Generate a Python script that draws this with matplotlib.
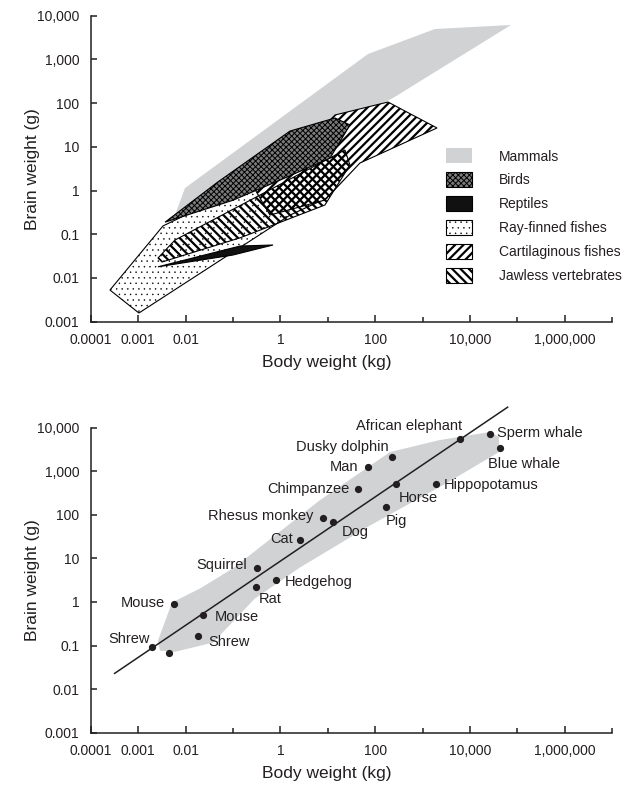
import matplotlib
matplotlib.use('Agg')
import matplotlib.pyplot as plt
from matplotlib.patches import Patch
from matplotlib.ticker import NullFormatter

plt.rcParams['font.family'] = ['Liberation Sans', 'DejaVu Sans']
plt.rcParams['hatch.linewidth'] = 1.5

ink = '#231f20'
gray = '#d1d2d4'

# --- top panel: outlines of each class, body weight (kg) / brain weight (g)
mammals_x = [0.006, 0.00975, 70.5, 1820, 73100, 237, 0.229, 0.0124]
mammals_y = [0.275, 1.14, 1330, 4960, 6130, 131, 2.95, 0.19]

birds_x = [0.0037, 0.048, 1.6, 14.2, 29.4, 11.1, 0.98, 0.1]
birds_y = [0.189, 1.57, 23, 45.7, 31.6, 5.5, 1.73, 0.6]

reptiles_x = [0.00262, 0.141, 0.7, 0.1]
reptiles_y = [0.018, 0.0538, 0.0568, 0.0335]

rayfin_x = [0.000255, 0.00104, 1.6, 9.6, 14.2, 2.6, 0.00335]
rayfin_y = [0.0053, 0.00158, 0.275, 0.675, 2.95, 5.0, 0.155]

cartil_x = [0.296, 2.6, 14.2, 186, 2010, 47.8, 8.7, 0.604]
cartil_y = [1.03, 8.45, 53.5, 106, 27, 4.27, 0.607, 0.275]

jawless_x = [0.00262, 0.006, 0.372, 23, 29.3, 8.7, 0.141, 0.0032]
jawless_y = [0.0286, 0.0738, 0.79, 8.45, 3.85, 0.467, 0.0828, 0.0232]

# --- bottom panel
species = ['African elephant', 'Sperm whale', 'Blue whale', 'Dusky dolphin', 'Man',
           'Chimpanzee', 'Horse', 'Hippopotamus', 'Pig', 'Dog', 'Rhesus monkey', 'Cat',
           'Squirrel', 'Hedgehog', 'Rat', 'Mouse', 'Mouse', 'Shrew', 'Shrew', '']
body_kg = [6140, 26300, 43300, 223, 69, 44, 274, 1900, 169, 13, 7.8, 2.6,
           0.32, 0.81, 0.30, 0.0058, 0.0237, 0.00196, 0.018, 0.00448]
brain_g = [5400, 7160, 3360, 2150, 1225, 382, 500, 498, 152, 68, 86.5, 27,
           6.1, 3.2, 2.25, 0.905, 0.49, 0.0906, 0.169, 0.067]

band_x = [0.00262, 0.00518, 0.0202, 0.1, 6.8, 205, 2320, 26300, 40700, 40700,
          2690, 78, 2.6, 0.29, 0.038, 0.006, 0.0029]
band_y = [0.129, 0.97, 2.04, 5.9, 216, 2760, 5210, 7960, 6110, 2750,
          480, 57, 6.2, 1.2, 0.117, 0.072, 0.076]

fit_x = [3.2e-4, 6.2e4]
fit_y = [0.023, 29500]

xt_major = [1e-4, 1e-3, 1e-2, 1, 1e2, 1e4, 1e6]
xt_labels = ['0.0001', '0.001', '0.01', '1', '100', '10,000', '1,000,000']
xt_minor = [0.1, 10, 1e3, 1e5, 1e7]
yt = [1e-3, 1e-2, 0.1, 1, 10, 100, 1e3, 1e4]
yt_labels = ['0.001', '0.01', '0.1', '1', '10', '100', '1,000', '10,000']

# label offsets in points and alignment
label_pos = [(1.4, 6.7, 'right'), (5.3, -2.4, 'left'), (-9.1, -14, 'left'),
             (-2.4, 4.3, 'right'), (-6.8, -2.4, 'right'), (-6, -2.4, 'right'),
             (2.2, -12.7, 'left'), (5.8, -3.4, 'left'), (0, -13.2, 'left'),
             (6, -10, 'left'), (-6.8, -1.9, 'right'), (-5.3, -2.6, 'right'),
             (-7.2, -1.2, 'right'), (6.5, -4.1, 'left'), (2.6, -12, 'left'),
             (-6.7, -1.9, 'right'), (7.9, -4.1, 'left'), (-1.4, 2.9, 'right'),
             (7.6, -7.2, 'left'), (0, 0, 'left')]

# fill styles: face, hatch, hatch line width
styles = {
    'Mammals': (gray, None, 1.0),
    'Birds': ('#7c7c7c', 'xxxxxx', 0.7),
    'Reptiles': ('#111111', None, 1.0),
    'Ray-finned fishes': ('white', '...', 0.3),
    'Cartilaginous fishes': ('white', '////', 1.6),
    'Jawless vertebrates': ('none', '\\\\\\\\', 1.6),
}


def style_axes(ax):
    ax.set_xscale('log')
    ax.set_yscale('log')
    ax.set_xlim(1e-4, 1e7)
    ax.set_ylim(1e-3, 1e4)
    for s in ['top', 'right']:
        ax.spines[s].set_visible(False)
    for s in ['left', 'bottom']:
        ax.spines[s].set_linewidth(1.1)
        ax.spines[s].set_color(ink)
    ax.set_xticks(xt_major)
    ax.set_xticklabels(xt_labels)
    ax.set_xticks(xt_minor, minor=True)
    ax.xaxis.set_minor_formatter(NullFormatter())
    ax.set_yticks(yt)
    ax.set_yticklabels(yt_labels)
    ax.set_yticks([], minor=True)
    ax.yaxis.set_minor_formatter(NullFormatter())
    ax.tick_params(which='major', direction='in', length=5, width=1.1, color=ink,
                   labelsize=10, labelcolor=ink)
    ax.tick_params(axis='y', which='major', length=4.5, pad=8)
    ax.tick_params(axis='x', which='major', pad=8)
    ax.tick_params(which='minor', direction='in', length=3.5, width=1.1, color=ink)
    ax.set_xlabel('Body weight (kg)', fontsize=12.5, color=ink)
    ax.set_ylabel('Brain weight (g)', fontsize=12.5, color=ink)
    ax.xaxis.set_label_coords(0.453, -0.108)
    ax.yaxis.set_label_coords(-0.097, 0.5)


def region(ax, xs, ys, name, z):
    face, hatch, hlw = styles[name]
    edge = 'none' if name == 'Mammals' else 'k'
    with plt.rc_context({'hatch.linewidth': hlw}):
        ax.fill(xs, ys, facecolor=face, edgecolor=edge, hatch=hatch, lw=0.8, zorder=z)


fig = plt.figure(figsize=(6.31, 7.85), dpi=100)
ax1 = fig.add_axes([0.1437, 0.5902, 0.8267, 0.3898])
ax2 = fig.add_axes([0.1437, 0.0666, 0.8267, 0.3886])

# top
region(ax1, mammals_x, mammals_y, 'Mammals', 1)
region(ax1, rayfin_x, rayfin_y, 'Ray-finned fishes', 2)
region(ax1, cartil_x, cartil_y, 'Cartilaginous fishes', 3)
region(ax1, jawless_x, jawless_y, 'Jawless vertebrates', 4)
region(ax1, birds_x, birds_y, 'Birds', 5)
region(ax1, reptiles_x, reptiles_y, 'Reptiles', 6)
style_axes(ax1)

handles = []
for name, (face, hatch, hlw) in styles.items():
    handles.append(Patch(facecolor='white' if face == 'none' else face,
                         edgecolor='none' if name == 'Mammals' else 'k',
                         hatch=hatch, lw=0.8))
leg = ax1.legend(handles, list(styles.keys()), loc='upper left',
                 bbox_to_anchor=(0.6806, 0.5667),
                 frameon=False, borderpad=0, borderaxespad=0, fontsize=10,
                 handlelength=1.92, handleheight=1.3, handletextpad=1.92,
                 labelspacing=0.63)
for t in leg.get_texts():
    t.set_color(ink)
# legend swatches get their own hatch widths
for h, (face, hatch, hlw) in zip(leg.legend_handles, styles.values()):
    if hasattr(h, 'set_hatch_linewidth'):
        h.set_hatch_linewidth(hlw)
    else:
        h._hatch_linewidth = hlw

# bottom
ax2.fill(band_x, band_y, facecolor=gray, edgecolor='none', zorder=1)
ax2.plot(fit_x, fit_y, color=ink, lw=1.1, zorder=2, clip_on=False)
ax2.plot(body_kg, brain_g, 'o', color=ink, markersize=4.2, zorder=3)
for name, bx, by, (dx, dy, ha) in zip(species, body_kg, brain_g, label_pos):
    if name:
        ax2.annotate(name, (bx, by), xytext=(dx, dy), textcoords='offset points',
                     ha=ha, va='baseline', fontsize=10.5, color=ink)
style_axes(ax2)

fig.savefig('out.png', dpi=100)
